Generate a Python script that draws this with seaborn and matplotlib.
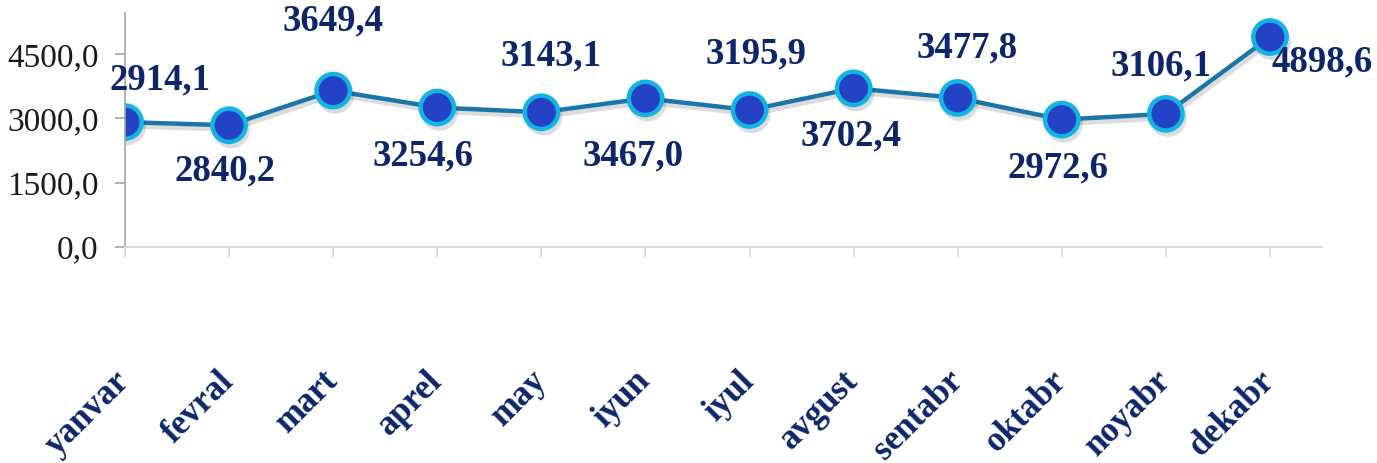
import matplotlib
matplotlib.use("Agg")
import matplotlib.pyplot as plt
import matplotlib.patheffects as pe
import seaborn as sns
import pandas as pd

# data
months = ["yanvar", "fevral", "mart", "aprel", "may", "iyun",
          "iyul", "avgust", "sentabr", "oktabr", "noyabr", "dekabr"]
values = [2914.1, 2840.2, 3649.4, 3254.6, 3143.1, 3467.0,
          3195.9, 3702.4, 3477.8, 2972.6, 3106.1, 4898.6]
yticks = [0, 1500, 3000, 4500]

# label offsets in pixels (dx, dy) relative to each point
label_offsets = [(35, 42), (-4, -46), (0, 70), (-14, -48), (10, 56), (-12, -58),
                 (6, 56), (-3, -48), (9, 50), (-4, -48), (-5, 48), (52, -25)]

df = pd.DataFrame({"month": months, "value": values, "x": range(len(months))})

sns.set_theme(style="white")
plt.rcParams["font.family"] = ["Liberation Serif", "DejaVu Serif"]

navy = "#0C2669"
fig = plt.figure(figsize=(13.77, 4.63), dpi=100)
ax = fig.add_axes([125 / 1377, 1 - 247 / 463, (1322 - 125) / 1377, (247 - 13) / 463])

sns.lineplot(data=df, x="x", y="value", ax=ax, color="#1A76A6", linewidth=3.2,
             marker="o", markersize=24, markerfacecolor="#2443C4",
             markeredgecolor="#12B4E2", markeredgewidth=3.2,
             path_effects=[pe.SimpleLineShadow(offset=(1.5, -3), alpha=0.15), pe.Normal()])

for i, (v, (dx, dy)) in enumerate(zip(values, label_offsets)):
    ax.annotate(f"{v:.1f}".replace(".", ","), (i, v), xytext=(dx * 0.72, dy * 0.72),
                textcoords="offset points", ha="center", va="center",
                fontsize=26.5, fontweight="bold", color=navy)

ax.set_xlim(0, 11.5)
ax.set_ylim(0, 5460)
ax.set_yticks(yticks)
ax.set_yticklabels([f"{t:.1f}".replace(".", ",") for t in yticks],
                   fontsize=24, color="#1a1a1a")
ax.set_xticks(range(len(months)))
ax.set_xticklabels(months, rotation=45, ha="right", va="center",
                   rotation_mode="anchor", fontsize=25, fontweight="bold", color=navy)
ax.tick_params(axis="x", length=7, width=1.2, color="#d9d9d9", pad=86, bottom=True)
ax.tick_params(axis="y", length=7, width=1.2, color="#a6a6a6", pad=12, left=True)
ax.set_xlabel("")
ax.set_ylabel("")

for s in ["top", "right"]:
    ax.spines[s].set_visible(False)
ax.spines["left"].set_color("#a6a6a6")
ax.spines["left"].set_linewidth(1.2)
ax.spines["bottom"].set_color("#d9d9d9")
ax.spines["bottom"].set_linewidth(1.5)
ax.grid(False)

fig.savefig("out.png", dpi=100)
